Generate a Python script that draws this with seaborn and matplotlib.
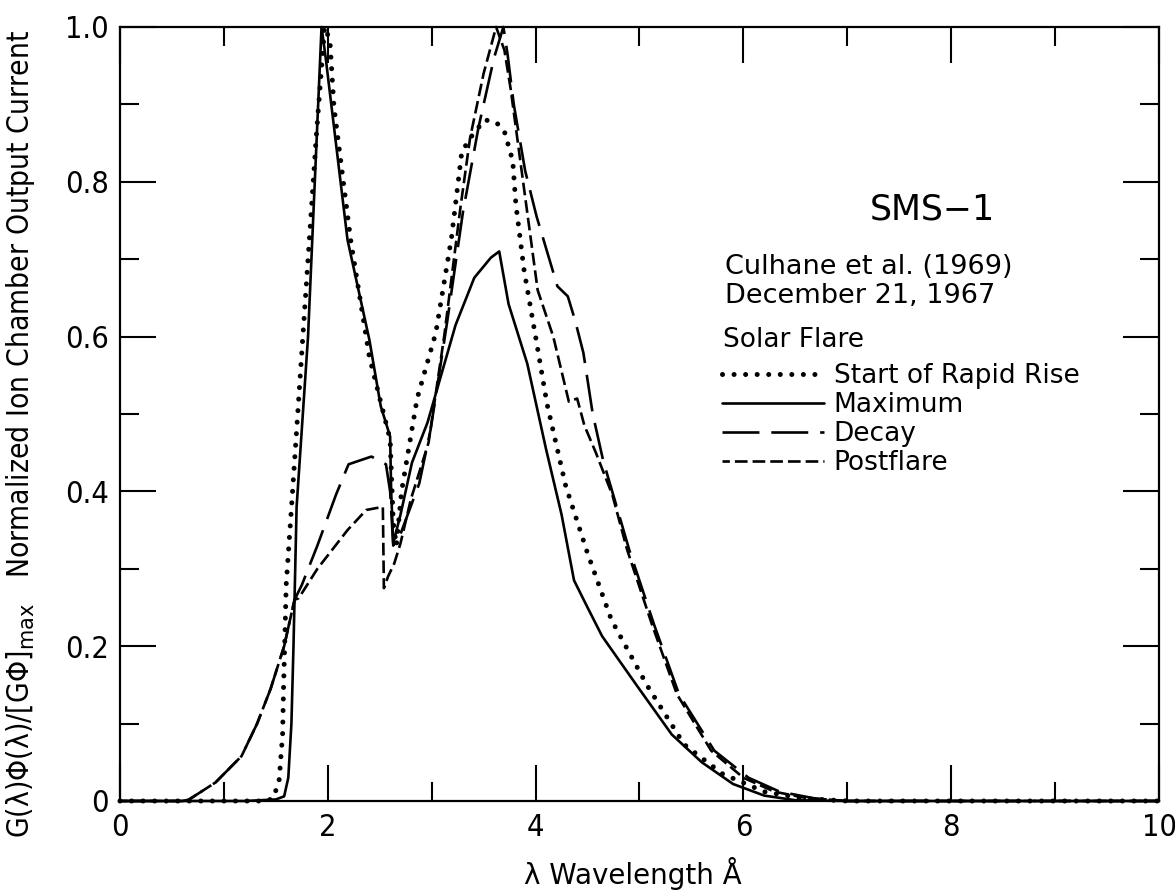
import os
import matplotlib
matplotlib.use("Agg")
import matplotlib.pyplot as plt
import matplotlib.font_manager as fm
from matplotlib.font_manager import FontProperties
from matplotlib.ticker import MultipleLocator, FuncFormatter
import seaborn as sns

# Normalized ion-chamber response G(λ)Φ(λ)/[GΦ]max for four phases of the
# 21 December 1967 flare (wavelength in Å).
wl_start = [0.0, 1.40, 1.47, 1.53, 1.565, 1.575, 1.585, 1.60, 1.65, 1.77, 1.89, 1.97,
            2.02, 2.06, 2.22, 2.40, 2.60, 2.63, 2.66, 2.71, 2.86, 3.04, 3.19, 3.29,
            3.39, 3.51, 3.62, 3.70, 3.78, 3.81, 3.89, 4.00, 4.11, 4.29, 4.50, 4.73,
            5.07, 5.43, 5.80, 6.20, 6.60, 7.00, 10.0]
g_start = [0.0, 0.0, 0.003, 0.024, 0.085, 0.15, 0.20, 0.28, 0.378, 0.62, 0.86, 1.0,
           0.983, 0.896, 0.725, 0.574, 0.467, 0.36, 0.33, 0.40, 0.52, 0.605, 0.727, 0.839,
           0.86, 0.88, 0.877, 0.865, 0.827, 0.771, 0.685, 0.60, 0.513, 0.407, 0.32, 0.234,
           0.15, 0.073, 0.035, 0.012, 0.003, 0.0, 0.0]

wl_max = [0.0, 1.20, 1.50, 1.58, 1.62, 1.65, 1.67, 1.70, 1.81, 1.94, 1.98, 2.19, 2.40,
          2.51, 2.60, 2.61, 2.63, 2.70, 2.81, 2.96, 3.23, 3.41, 3.57, 3.65, 3.74, 3.92,
          4.10, 4.25, 4.37, 4.50, 4.64, 4.97, 5.31, 5.60, 5.90, 6.20, 6.50, 7.00, 10.0]
g_max = [0.0, 0.0, 0.002, 0.006, 0.03, 0.10, 0.20, 0.38, 0.60, 1.0, 0.96, 0.725, 0.596,
         0.51, 0.471, 0.40, 0.333, 0.37, 0.437, 0.489, 0.615, 0.676, 0.702, 0.71, 0.642, 0.565,
         0.455, 0.37, 0.285, 0.25, 0.213, 0.15, 0.086, 0.05, 0.022, 0.007, 0.001, 0.0, 0.0]

wl_decay = [0.0, 0.60, 0.66, 0.92, 1.17, 1.32, 1.45, 1.58, 1.68, 1.75, 1.90, 2.08, 2.20,
            2.42, 2.56, 2.60, 2.63, 2.70, 2.88, 2.99, 3.15, 3.30, 3.45, 3.60, 3.69, 3.73,
            3.79, 3.90, 4.01, 4.21, 4.31, 4.38, 4.46, 4.55, 4.65, 4.77, 4.90, 5.14, 5.38,
            5.72, 6.05, 6.35, 6.70, 7.00, 10.0]
g_decay = [0.0, 0.0, 0.0015, 0.024, 0.058, 0.10, 0.145, 0.20, 0.26, 0.279, 0.33, 0.396, 0.435,
           0.445, 0.435, 0.40, 0.33, 0.345, 0.41, 0.48, 0.62, 0.76, 0.87, 0.96, 1.0, 0.965,
           0.90, 0.814, 0.755, 0.665, 0.652, 0.621, 0.579, 0.50, 0.44, 0.385, 0.325, 0.228, 0.138,
           0.065, 0.03, 0.012, 0.003, 0.0, 0.0]

wl_post = [0.0, 0.60, 0.66, 0.92, 1.17, 1.32, 1.45, 1.58, 1.68, 1.72, 1.90, 2.19, 2.37,
           2.53, 2.54, 2.58, 2.64, 2.70, 2.80, 2.97, 3.12, 3.28, 3.37, 3.50, 3.62, 3.70,
           3.76, 3.87, 4.02, 4.17, 4.32, 4.40, 4.47, 4.58, 4.74, 4.88, 5.12, 5.36, 5.69,
           6.00, 6.30, 6.60, 7.00, 10.0]
g_post = [0.0, 0.0, 0.0015, 0.024, 0.058, 0.10, 0.145, 0.20, 0.26, 0.262, 0.30, 0.35, 0.376,
          0.38, 0.275, 0.29, 0.307, 0.333, 0.39, 0.463, 0.60, 0.77, 0.857, 0.94, 1.0, 0.97,
          0.92, 0.81, 0.66, 0.60, 0.516, 0.52, 0.485, 0.45, 0.395, 0.325, 0.228, 0.138, 0.065,
          0.03, 0.012, 0.004, 0.0, 0.0]

phase_labels = ["Start of Rapid Rise", "Maximum", "Decay", "Postflare"]
x_ticks = [0, 2, 4, 6, 8, 10]
y_ticks = [0, 0.2, 0.4, 0.6, 0.8, 1.0]

sns.set_theme(style="ticks")
plt.rcParams["font.family"] = ["DejaVu Sans"]
plt.rcParams.update({
    "text.color": "black",
    "axes.labelcolor": "black",
    "xtick.color": "black",
    "ytick.color": "black",
    "axes.edgecolor": "black",
    "mathtext.fontset": "dejavusans",
})


def narrow_font(size):
    """Condensed face for the axis numbers and the vertical axis title."""
    wanted = ["LiberationSansNarrow-Regular.ttf", "DejaVuSansCondensed.ttf"]
    files = {os.path.basename(f.fname): f.fname for f in fm.fontManager.ttflist}
    for name in wanted:
        if name in files:
            return FontProperties(fname=files[name], size=size)
    return FontProperties(family="DejaVu Sans", stretch="condensed", size=size)


fig = plt.figure(figsize=(11.75, 8.9), dpi=100)
ax = fig.add_axes([0.1021, 0.100, 0.8843, 0.8697])

line_styles = [
    dict(lw=3.6, linestyle=(0, (0.01, 2.3)), dash_capstyle="round"),
    dict(lw=1.9, linestyle="-"),
    dict(lw=1.9, linestyle=(0, (14.0, 4.5))),
    dict(lw=1.9, linestyle=(2, (4.8, 1.9))),
]
curves = [(wl_start, g_start), (wl_max, g_max), (wl_decay, g_decay), (wl_post, g_post)]

for (wl, g), lab, st in zip(curves, phase_labels, line_styles):
    sns.lineplot(x=wl, y=g, ax=ax, color="black", sort=False, estimator=None,
                 label=lab, clip_on=False, **st)

ax.set_xlim(0, 10)
ax.set_ylim(0, 1.0)
ax.set_xticks(x_ticks)
ax.set_yticks(y_ticks)
ax.xaxis.set_minor_locator(MultipleLocator(1))
ax.yaxis.set_minor_locator(MultipleLocator(0.1))
ax.xaxis.set_major_formatter(FuncFormatter(lambda v, p: f"{int(round(v))}"))
ax.yaxis.set_major_formatter(FuncFormatter(lambda v, p: "0" if v == 0 else f"{v:.1f}"))
ax.tick_params(which="both", direction="in", top=True, right=True,
               width=1.5, color="black")
ax.tick_params(which="major", length=26)
ax.tick_params(which="minor", length=14)
ax.tick_params(axis="y", which="major", pad=8)
ax.tick_params(axis="x", which="major", pad=9)
tick_fp = narrow_font(22)
for t in ax.get_xticklabels() + ax.get_yticklabels():
    t.set_fontproperties(tick_fp)
for s in ax.spines.values():
    s.set_linewidth(1.6)
    s.set_color("black")

ax.set_xlabel("λ Wavelength Å", fontsize=20)
ax.xaxis.set_label_coords(0.494, -0.072)
ax.set_ylabel(r"G(λ)Φ(λ)/[GΦ]$_{\rm max}$   Normalized Ion Chamber Output Current",
              fontproperties=narrow_font(21.5))
ax.yaxis.set_label_coords(-0.080, 0.474)

ax.text(0.782, 0.764, "SMS−1", transform=ax.transAxes, ha="center", va="center",
        fontsize=25)
ax.text(0.582, 0.690, "Culhane et al. (1969)", transform=ax.transAxes, ha="left",
        va="center", fontsize=19.5)
ax.text(0.582, 0.653, "December 21, 1967", transform=ax.transAxes, ha="left",
        va="center", fontsize=19.5)
ax.text(0.580, 0.5956, "Solar Flare", transform=ax.transAxes, ha="left",
        va="center", fontsize=19)

leg = ax.legend(loc="upper left", bbox_to_anchor=(0.579, 0.566),
                frameon=False, fontsize=19, handlelength=3.9,
                handletextpad=0.35, labelspacing=0.12, borderpad=0, borderaxespad=0)

fig.savefig("out.png", dpi=100, facecolor="white")
